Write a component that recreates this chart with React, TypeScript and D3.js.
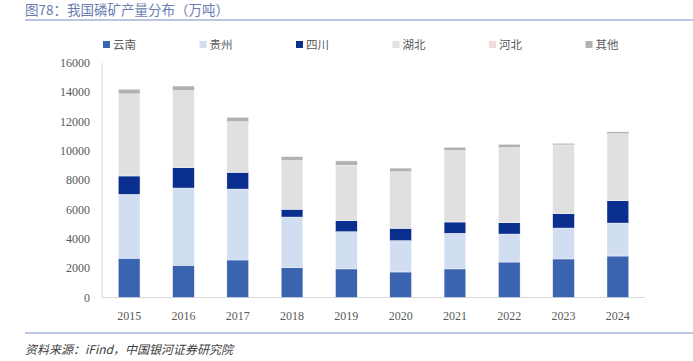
import React, { useEffect, useRef } from 'react'
import * as d3 from 'd3'

const years = ['2015', '2016', '2017', '2018', '2019', '2020', '2021', '2022', '2023', '2024']
const seriesNames = ['云南', '贵州', '四川', '湖北', '河北', '其他']
const yunnan = [2680, 2200, 2560, 2040, 1950, 1740, 1950, 2420, 2630, 2830]
const guizhou = [4360, 5270, 4840, 3450, 2540, 2140, 2430, 1910, 2110, 2250]
const sichuan = [1250, 1390, 1140, 530, 750, 840, 770, 770, 980, 1520]
const hubei = [5600, 5250, 3450, 3320, 3780, 3860, 4870, 5120, 4690, 4570]
const hebei = [0, 0, 0, 0, 0, 0, 0, 0, 0, 0]
const others = [320, 320, 300, 270, 300, 250, 230, 230, 110, 140]
const yTicks = [0, 2000, 4000, 6000, 8000, 10000, 12000, 14000, 16000]

const colors = ['#3A64AF', '#D1DEF1', '#0A2F8F', '#E0E0E0', '#F4D9DC', '#B1B1B1']

export default function App() {
  const ref = useRef<SVGSVGElement>(null)

  useEffect(() => {
    const svg = d3.select(ref.current)
    svg.selectAll('*').remove()

    const values = [yunnan, guizhou, sichuan, hubei, hebei, others]
    const rows = years.map((yr, i) => {
      const row: any = { year: yr }
      seriesNames.forEach((s, k) => { row[s] = values[k][i] })
      return row
    })
    const stacked = d3.stack().keys(seriesNames)(rows)

    const x = d3.scaleBand().domain(years).range([102, 645]).paddingInner(0.6).paddingOuter(0.3)
    const y = d3.scaleLinear().domain([0, 16000]).range([297.5, 63])

    // title
    svg.append('text')
      .attr('x', 25).attr('y', 15)
      .attr('font-family', '"Noto Sans CJK SC", sans-serif')
      .attr('font-size', 13.5)
      .attr('fill', '#6A7CB2')
      .text('图78：我国磷矿产量分布（万吨）')
    svg.append('line')
      .attr('x1', 25).attr('x2', 693).attr('y1', 20).attr('y2', 20)
      .attr('stroke', '#A3B3D8').attr('stroke-width', 1.5)

    // legend
    seriesNames.forEach((s, k) => {
      const lx = 103 + k * 96.5
      svg.append('rect')
        .attr('x', lx).attr('y', 41).attr('width', 7).attr('height', 7)
        .attr('fill', colors[k])
      svg.append('text')
        .attr('x', lx + 10).attr('y', 49)
        .attr('font-family', '"Noto Sans CJK SC", sans-serif')
        .attr('font-size', 11.5)
        .attr('fill', '#595959')
        .text(s)
    })

    // y axis labels
    svg.append('g').selectAll('text').data(yTicks).enter().append('text')
      .attr('x', 90).attr('y', d => y(d) + 4)
      .attr('text-anchor', 'end')
      .attr('font-family', '"Liberation Serif", serif')
      .attr('font-size', 12)
      .attr('fill', '#595959')
      .text(d => d)

    // axes lines
    svg.append('line')
      .attr('x1', 102).attr('x2', 102).attr('y1', 63).attr('y2', 297.5)
      .attr('stroke', '#D9D9D9')
    svg.append('line')
      .attr('x1', 102).attr('x2', 645).attr('y1', 297.5).attr('y2', 297.5)
      .attr('stroke', '#D9D9D9')

    // bars
    svg.append('g').selectAll('g').data(stacked).enter().append('g')
      .attr('fill', (d, k) => colors[k])
      .selectAll('rect').data(d => d).enter().append('rect')
      .attr('x', d => x(d.data.year as string)!)
      .attr('width', x.bandwidth())
      .attr('y', d => y(d[1]))
      .attr('height', d => Math.max(0, y(d[0]) - y(d[1])))
      .attr('stroke', 'white').attr('stroke-width', 0.4)

    // x labels
    svg.append('g').selectAll('text').data(years).enter().append('text')
      .attr('x', d => x(d)! + x.bandwidth() / 2)
      .attr('y', 320)
      .attr('text-anchor', 'middle')
      .attr('font-family', '"Liberation Serif", serif')
      .attr('font-size', 12)
      .attr('fill', '#595959')
      .text(d => d)

    // source
    svg.append('line')
      .attr('x1', 25).attr('x2', 693).attr('y1', 333).attr('y2', 333)
      .attr('stroke', '#A3B3D8').attr('stroke-width', 1.5)
    svg.append('text')
      .attr('x', 25).attr('y', 354)
      .attr('font-family', '"Noto Sans CJK SC", sans-serif')
      .attr('font-size', 12)
      .attr('font-style', 'italic')
      .attr('fill', '#404040')
      .text('资料来源：iFind，中国银河证券研究院')
  }, [])

  return (
    <svg ref={ref} width={693} height={361}
      style={{ position: 'absolute', left: 0, top: 0, background: 'white' }} />
  )
}
